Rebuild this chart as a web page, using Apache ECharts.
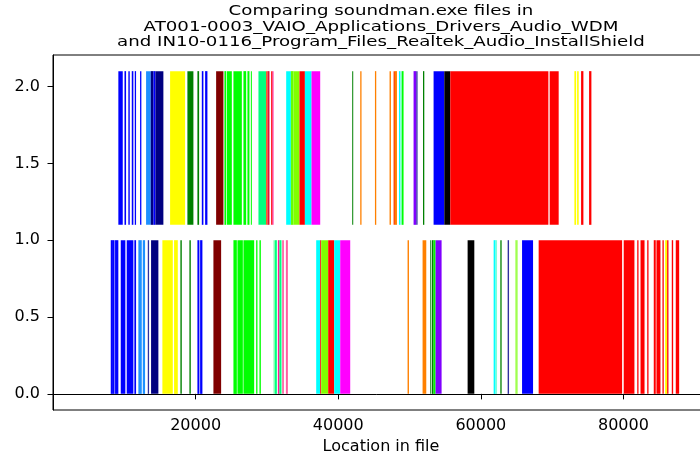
<!DOCTYPE html>
<html>
<head>
<meta charset="utf-8">
<script src="https://cdn.jsdelivr.net/npm/echarts@6/dist/echarts.min.js"></script>
<style>
html,body{margin:0;padding:0;background:#fff;overflow:hidden;}
#chart{width:700px;height:452px;}
</style>
</head>
<body>
<div id="chart"></div>
<script>
// ---- data (file offsets of matching regions) ----
const titleLines = [
  'Comparing soundman.exe files in',
  'AT001-0003_VAIO_Applications_Drivers_Audio_WDM',
  'and IN10-0116_Program_Files_Realtek_Audio_InstallShield'
];
const xAxisLabel = 'Location in file';
const xTicks = [20000, 40000, 60000, 80000];
const yTicks = [0.0, 0.5, 1.0, 1.5, 2.0];

// row extents on the y axis (data units)
const topRow = [1.1, 2.1];
const bottomRow = [0.0, 1.0];

// [start, end, colour name]
const topSegments = [
  [9165, 9783, 'blue'], [10025, 10246, 'blue'], [10568, 10765, 'blue'],
  [11046, 11270, 'blue'], [11466, 11649, 'blue'], [12211, 12393, 'blue'],
  [13053, 13712, 'dodgerblue'], [13712, 14080, 'navy'], [14080, 14360, 'blue'],
  [14360, 15480, 'navy'],
  [16421, 18526, 'yellow'],
  [18849, 19691, 'green'], [20253, 20491, 'green'],
  [20870, 21094, 'blue'], [21333, 21656, 'blue'],
  [22877, 23901, 'maroon'],
  [24042, 24281, 'lime'], [24379, 25081, 'lime'], [25305, 26484, 'lime'],
  [26709, 27088, 'lime'], [27270, 27551, 'lime'], [27747, 27888, 'lime'],
  [28814, 29895, 'springgreen'], [29895, 30077, 'orangered'], [30077, 30358, 'crimson'],
  [30596, 30779, 'red'], [30779, 30919, 'deeppink'],
  [32702, 33362, 'cyan'], [33362, 33730, 'lawngreen'], [33730, 34569, 'chartreuse'],
  [34569, 35326, 'red'], [35326, 36253, 'cyan'], [36253, 37474, 'magenta'],
  [41964, 42104, 'green'],
  [43087, 43270, 'darkorange'], [45150, 45333, 'darkorange'], [47199, 47396, 'darkorange'],
  [47761, 47957, 'orangered'], [47957, 48238, 'darkorange'],
  [48519, 48701, 'cyan'], [48701, 48912, 'aquamarine'], [48912, 49164, 'lime'],
  [50567, 50946, 'blueviolet'], [50946, 51129, 'slateblue'],
  [51889, 52072, 'green'],
  [53375, 54877, 'blue'], [54877, 55719, 'black'],
  [55719, 69473, 'red'], [69656, 70919, 'red'],
  [73122, 73361, 'yellow'], [73501, 73726, 'yellow'],
  [74062, 74385, 'red'], [75184, 75507, 'red']
];

const bottomSegments = [
  [8098, 8281, 'blue'], [8281, 8632, 'blue'], [8702, 9165, 'blue'],
  [9502, 10148, 'blue'], [10340, 11270, 'blue'], [11410, 11649, 'blue'],
  [11972, 12449, 'dodgerblue'], [12590, 12913, 'dodgerblue'],
  [13291, 13474, 'slateblue'], [13754, 14779, 'navy'],
  [15340, 16800, 'yellow'], [16982, 17501, 'yellow'],
  [17866, 18062, 'green'], [19130, 19326, 'green'],
  [20253, 20533, 'blue'], [20631, 20954, 'blue'],
  [22498, 23579, 'maroon'],
  [25305, 25782, 'lime'], [25867, 26625, 'lime'], [26709, 28210, 'lime'],
  [28491, 28674, 'lime'], [28955, 29151, 'lime'],
  [30919, 31116, 'palegreen'], [31116, 31397, 'springgreen'], [31537, 31762, 'deeppink'],
  [31762, 32042, 'springgreen'], [32140, 32379, 'hotpink'], [32660, 32941, 'hotpink'],
  [36912, 37474, 'cyan'], [37474, 37614, 'red'], [37614, 38596, 'chartreuse'],
  [38596, 39438, 'red'], [39438, 40280, 'cyan'], [40280, 41683, 'magenta'],
  [49725, 49922, 'darkorange'], [51831, 52350, 'darkorange'],
  [52913, 53053, 'green'], [53152, 53375, 'green'], [53375, 53656, 'lime'],
  [53656, 54498, 'blueviolet'],
  [58147, 59087, 'black'],
  [61797, 62077, 'cyan'], [62077, 62274, 'aquamarine'], [62736, 62918, 'green'],
  [63760, 63957, 'slateblue'], [64841, 65164, 'greenyellow'],
  [65782, 67325, 'blue'],
  [68110, 79815, 'red'], [80040, 81541, 'red'], [81934, 82116, 'red'],
  [82397, 82959, 'red'], [83335, 83518, 'red'], [84252, 84533, 'red'],
  [84630, 85192, 'red'], [85473, 85655, 'red'], [85851, 86132, 'yellow'],
  [86132, 86314, 'red'], [86778, 86974, 'red'], [87339, 87816, 'red']
];

// ---- styles ----
const palette = {
  blue: '#0000ff', dodgerblue: '#1e90ff', navy: '#000080', yellow: '#ffff00',
  green: '#008000', maroon: '#800000', lime: '#00ff00', springgreen: '#00ff80',
  orangered: '#ff4500', crimson: '#dc143c', red: '#ff0000', deeppink: '#ff1493',
  hotpink: '#ff5fa0', cyan: '#00ffff', chartreuse: '#80ff00', lawngreen: '#66ff00',
  magenta: '#ff00ff', darkorange: '#ff8000', aquamarine: '#7fffd4', blueviolet: '#8000ff',
  slateblue: '#3030a0', black: '#000000', greenyellow: '#a0ff50', palegreen: '#80ffb0'
};
const FONT = 'DejaVu Sans';

function toItems(segs, row) {
  return segs.map(s => ({
    value: [s[0], s[1], row[0], row[1]],
    itemStyle: { color: palette[s[2]] }
  }));
}

function renderSeg(params, api) {
  const a = api.coord([api.value(0), api.value(3)]);
  const b = api.coord([api.value(1), api.value(2)]);
  return {
    type: 'rect',
    shape: { x: a[0], y: a[1], width: Math.max(b[0] - a[0], 0.8), height: b[1] - a[1] },
    style: { fill: api.visual('color') }
  };
}

const chart = echarts.init(document.getElementById('chart'), null, { renderer: 'canvas' });
chart.setOption({
  animation: false,
  backgroundColor: '#ffffff',
  graphic: [{
    type: 'text',
    x: 381, y: 4,
    scaleX: 1.3,
    style: {
      text: titleLines.join('\n'),
      font: 'normal 14px "DejaVu Sans"',
      fill: '#000',
      align: 'center',
      verticalAlign: 'top',
      lineHeight: 15.5
    }
  }],
  grid: { left: 53, right: -9, top: 55, bottom: 42, outerBoundsMode: 'none', containLabel: false,
          show: true, borderColor: '#000', borderWidth: 1, backgroundColor: 'transparent' },
  xAxis: {
    type: 'value', min: 0, max: 92000,
    name: xAxisLabel, nameLocation: 'middle', nameGap: 23,
    nameTextStyle: { fontFamily: FONT, fontSize: 16, color: '#000' },
    axisLine: { show: true, lineStyle: { color: '#000', width: 1 } },
    axisTick: { show: true, length: 5.5, lineStyle: { color: '#000' }, customValues: xTicks },
    axisLabel: { fontFamily: FONT, fontSize: 16, color: '#000', margin: 8, customValues: xTicks, formatter: v => String(v) },
    splitLine: { show: false }
  },
  yAxis: {
    type: 'value', min: -0.105, max: 2.205,
    axisLine: { show: true, lineStyle: { color: '#000', width: 1 } },
    axisTick: { show: true, length: 5.5, lineStyle: { color: '#000' }, customValues: yTicks },
    axisLabel: { fontFamily: FONT, fontSize: 16, color: '#000', margin: 13, customValues: yTicks, formatter: v => v.toFixed(1) },
    splitLine: { show: false }
  },
  series: [
    { type: 'custom', name: 'top', renderItem: renderSeg, encode: { x: [0, 1], y: [2, 3] }, data: toItems(topSegments, topRow) },
    { type: 'custom', name: 'bottom', renderItem: renderSeg, encode: { x: [0, 1], y: [2, 3] }, data: toItems(bottomSegments, bottomRow) }
  ]
});
</script>
</body>
</html>
